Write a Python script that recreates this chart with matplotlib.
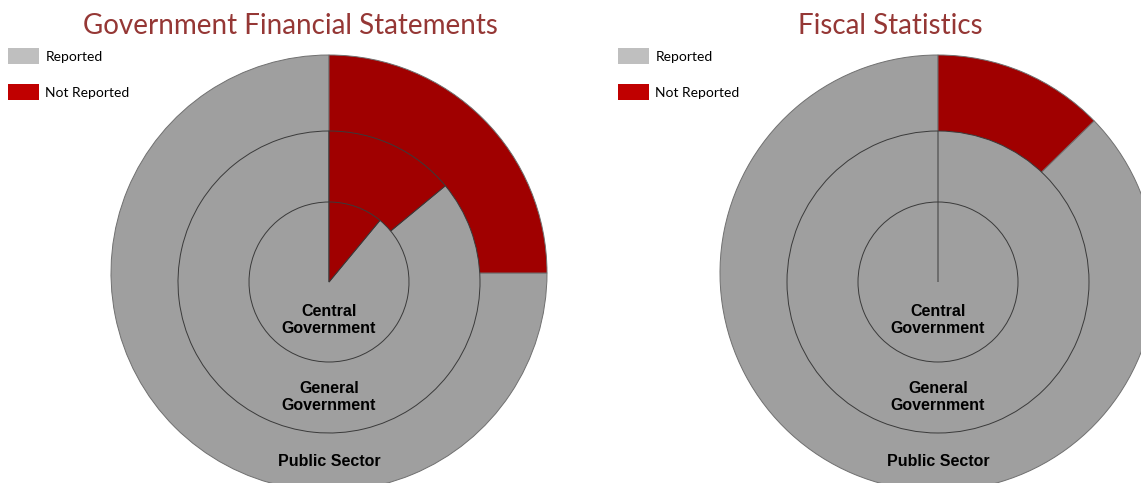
import matplotlib
matplotlib.use("Agg")
import matplotlib.pyplot as plt
from matplotlib.patches import Patch

# ---- data ----
rings = ["Public Sector", "General Government", "Central Government"]
ring_labels = ["Public Sector", "General\nGovernment", "Central\nGovernment"]
status = ["Reported", "Not Reported"]
gfs_not_reported = [25.0, 14.0, 11.0]      # Government Financial Statements (%)
fs_not_reported = [12.7, 0.0, 0.0]         # Fiscal Statistics (%)
titles = ["Government Financial Statements", "Fiscal Statistics"]

# ---- style / layout ----
W, H = 1141, 483
pie_gray = "#9f9f9f"
pie_red = "#a00000"
leg_gray = "#bfbfbf"
leg_red = "#c00000"
title_color = "#953735"

fig = plt.figure(figsize=(W / 100, H / 100), dpi=100)
ax = fig.add_axes([0, 0, 1, 1])

panels = [
    dict(cx=329, title_x=290, data=gfs_not_reported, leg_x=8),
    dict(cx=938, title_x=890, data=fs_not_reported, leg_x=618),
]
radii = [218, 151, 80]
cy_px = [273, 282, 282]
label_y_px = [461, 397, 320]
edge_cols = ["#707070", "#3a3a3a", "#3a3a3a"]

for p, title in zip(panels, titles):
    for i, ring in enumerate(rings):
        nr = p["data"][i]
        vals = [100.0 - nr, nr]   # reported drawn first, not-reported on top
        ax.pie(vals, colors=[pie_gray, pie_red], startangle=90, counterclock=True,
               radius=radii[i], center=(p["cx"], H - cy_px[i]), normalize=True,
               wedgeprops=dict(edgecolor=edge_cols[i], linewidth=0.7))
    for i, lab in enumerate(ring_labels):
        ax.text(p["cx"], H - label_y_px[i], lab, ha="center", va="center",
                fontsize=11.5, fontweight="bold", family="Liberation Sans",
                color="black", linespacing=1.12)
    ax.text(p["title_x"], H - 26, title, ha="center", va="center",
            fontsize=20, color=title_color, family="Lato")
    handles = [Patch(facecolor=leg_gray, edgecolor="none", label=status[0]),
               Patch(facecolor=leg_red, edgecolor="none", label=status[1])]
    fig.legend(handles=handles, loc="upper left",
               bbox_to_anchor=((p["leg_x"] - 7) / W, 1 - 41 / H),
               frameon=False, prop=dict(family="Lato", size=10),
               handlelength=2.2, handleheight=1.45, handletextpad=0.5,
               labelspacing=1.4, borderaxespad=0, borderpad=0.5)

ax.set_xlim(0, W)
ax.set_ylim(0, H)
ax.set_aspect("auto")
ax.axis("off")

fig.savefig("out.png", dpi=100)
